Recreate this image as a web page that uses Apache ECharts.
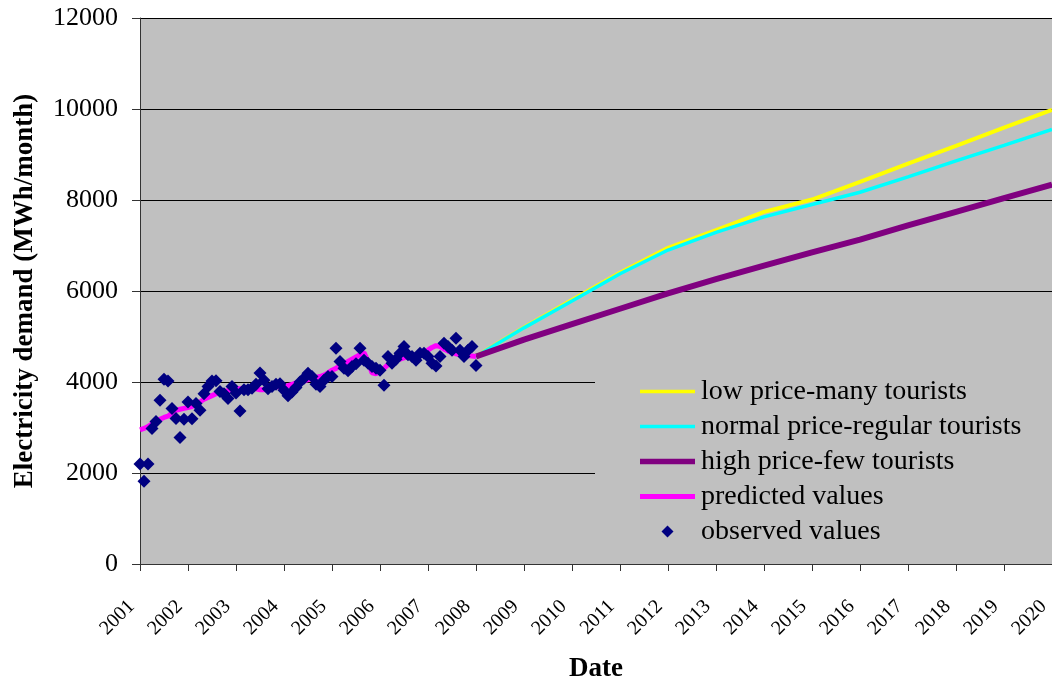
<!DOCTYPE html>
<html>
<head>
<meta charset="utf-8">
<script src="https://cdn.jsdelivr.net/npm/echarts@6/dist/echarts.min.js"></script>
<style>
html,body{margin:0;padding:0;background:#fff;}
#c{width:1052px;height:681px;}
</style>
</head>
<body>
<div id="c"></div>
<script>
// Observed monthly values, starting Jan 2001
const observedStart = 2001;
const observedValues = [
  2200,1820,2200,2980,3130,3600,4060,4020,3420,3200,
  2780,3180,3560,3190,3530,3380,3740,3900,4020,4030,
  3790,3740,3640,3900,3760,3360,3830,3830,3860,3950,
  4200,4040,3850,3900,3950,3960,3820,3700,3780,3880,
  4000,4080,4190,4120,3950,3900,4040,4120,4120,4740,
  4450,4300,4250,4340,4400,4740,4480,4410,4340,4300,
  4260,3930,4560,4410,4500,4630,4780,4600,4560,4480,
  4630,4630,4560,4410,4350,4560,4850,4780,4700,4960,
  4700,4560,4700,4780,4360
];
// Predicted monthly values, same dates
const predictedValues = [
  2950,2980,3020,3080,3130,3180,3220,3250,3320,3380,
  3400,3420,3440,3460,3500,3560,3620,3660,3700,3740,
  3770,3790,3810,3830,3850,3850,3860,3870,3870,3850,
  3830,3830,3850,3870,3890,3900,3900,3920,3950,3980,
  4000,4020,4050,4080,4100,4120,4150,4200,4260,4300,
  4360,4400,4450,4500,4550,4600,4650,4450,4200,4180,
  4250,4300,4380,4440,4480,4500,4530,4550,4580,4600,
  4620,4650,4700,4760,4800,4780,4720,4680,4650,4620,
  4600,4590,4580,4570,4560
];
// Scenario years and values
const scenarioYears = [2008,2009,2010,2011,2012,2013,2014,2015,2016,2017,2018,2019,2020];
const lowPriceMany = [4560,5200,5800,6400,6950,7340,7740,8010,8400,8800,9190,9590,9980];
const normalPriceRegular = [4560,5190,5780,6380,6900,7290,7630,7900,8170,8510,8860,9200,9550];
const highPriceFew = [4560,4930,5270,5610,5950,6260,6560,6850,7130,7440,7740,8040,8340];

const seriesNames = ['low price-many tourists','normal price-regular tourists','high price-few tourists','predicted values','observed values'];

const monthly = arr => arr.map((v,i)=>[observedStart + i/12, v]);
const yearly = arr => arr.map((v,i)=>[scenarioYears[i], v]);

const FONT = "'Liberation Serif','Times New Roman',serif";
const lineIcon = h => 'path://M0,0H110V' + h + 'H0Z';
const chart = echarts.init(document.getElementById('c'), null, {renderer:'canvas'});
chart.setOption({
  animation:false,
  backgroundColor:'#ffffff',
  textStyle:{fontFamily:FONT, color:'#000'},
  grid:{left:140, right:0, top:18, bottom:117, show:true, backgroundColor:'#c0c0c0', borderWidth:0, containLabel:false, outerBoundsMode:'none'},
  xAxis:{
    type:'value', min:2001, max:2020, interval:1,
    name:'Date', nameLocation:'middle', nameGap:92,
    nameTextStyle:{fontFamily:FONT, fontSize:27, fontWeight:'bold', color:'#000'},
    axisLine:{show:true, lineStyle:{color:'#333', width:1}},
    axisTick:{show:true, length:7, lineStyle:{color:'#333'}},
    splitLine:{show:false},
    axisLabel:{rotate:45, margin:31, padding:[0,12,0,0], fontFamily:FONT, fontSize:20, color:'#000', formatter:v=>String(v), hideOverlap:false}
  },
  yAxis:{
    type:'value', min:0, max:12000, interval:2000,
    name:'Electricity demand (MWh/month)', nameLocation:'middle', nameGap:101, nameRotate:90,
    nameTextStyle:{fontFamily:FONT, fontSize:27, fontWeight:'bold', color:'#000'},
    axisLine:{show:true, lineStyle:{color:'#333', width:1}},
    axisTick:{show:true, length:8, lineStyle:{color:'#333'}},
    splitLine:{show:true, lineStyle:{color:'#000', width:1}},
    axisLabel:{margin:22, fontFamily:FONT, fontSize:26, color:'#000', formatter:v=>String(v)}
  },
  legend:{
    orient:'vertical', left:595, top:362,
    padding:[12,40,6,45],
    backgroundColor:'#c0c0c0',
    itemWidth:55, itemHeight:12, itemGap:0,
    textStyle:{fontFamily:FONT, fontSize:28, color:'#000', lineHeight:35, padding:[0,0,0,1]},
    data:[
      {name:seriesNames[0], icon:lineIcon(7), itemStyle:{color:'#ffff00'}},
      {name:seriesNames[1], icon:lineIcon(7), itemStyle:{color:'#00ffff'}},
      {name:seriesNames[2], icon:lineIcon(11), itemStyle:{color:'#800080'}},
      {name:seriesNames[3], icon:lineIcon(10), itemStyle:{color:'#ff00ff'}},
      {name:seriesNames[4], icon:'path://M5,0L10,5L5,10L0,5Z', itemStyle:{color:'#000080'}}
    ]
  },
  series:[
    {name:seriesNames[0], type:'line', data:yearly(lowPriceMany), symbol:'none', lineStyle:{color:'#ffff00', width:4}, itemStyle:{color:'#ffff00'}, z:2},
    {name:seriesNames[1], type:'line', data:yearly(normalPriceRegular), symbol:'none', lineStyle:{color:'#00ffff', width:3.5}, itemStyle:{color:'#00ffff'}, z:3},
    {name:seriesNames[2], type:'line', data:yearly(highPriceFew), symbol:'none', lineStyle:{color:'#800080', width:6}, itemStyle:{color:'#800080'}, z:4},
    {name:seriesNames[3], type:'line', data:monthly(predictedValues), symbol:'none', lineStyle:{color:'#ff00ff', width:5}, itemStyle:{color:'#ff00ff'}, z:5},
    {name:seriesNames[4], type:'scatter', data:monthly(observedValues), symbol:'diamond', symbolSize:13, itemStyle:{color:'#000080', opacity:1}, z:6}
  ]
});
</script>
</body>
</html>
